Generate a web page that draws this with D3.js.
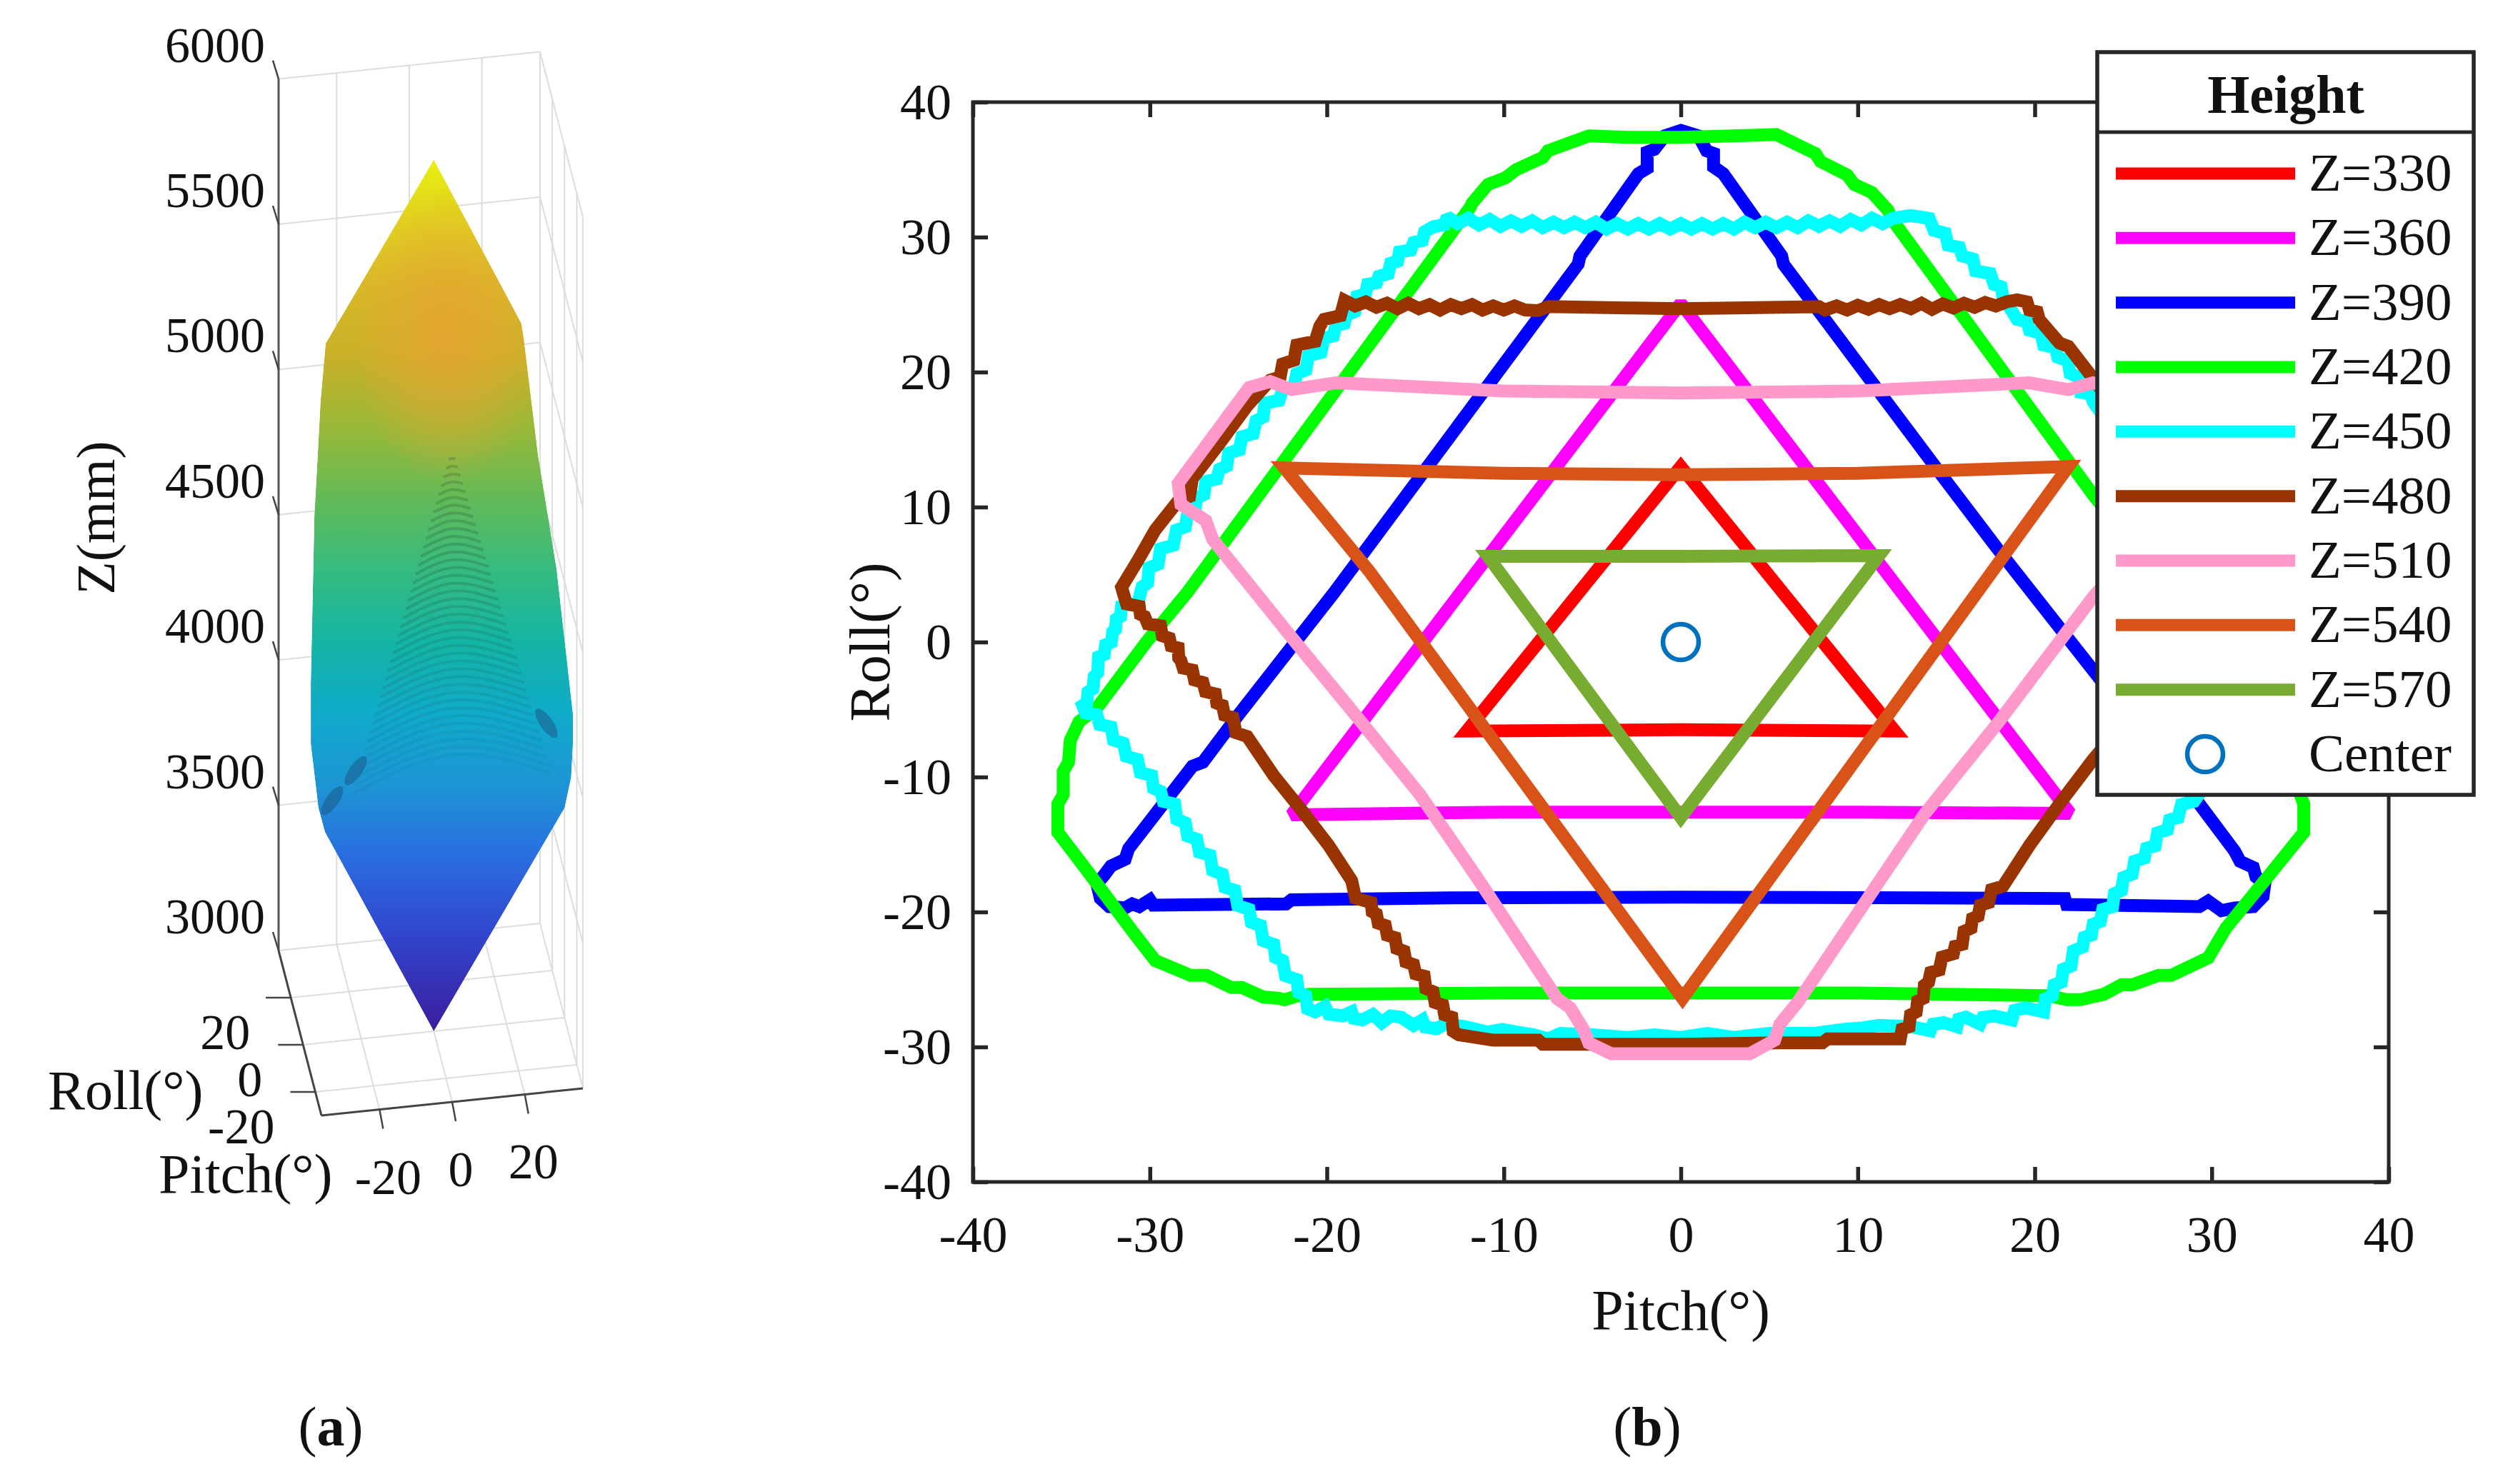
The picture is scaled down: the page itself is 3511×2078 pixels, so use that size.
<!DOCTYPE html>
<html>
<head>
<meta charset="utf-8">
<title>Height contours</title>
<script src="https://cdnjs.cloudflare.com/ajax/libs/d3/7.8.5/d3.min.js"></script>
<style>
html, body { margin: 0; padding: 0; background: #fff; }
svg { display: block; }
text { font-family: "Liberation Serif", serif; fill: #111; }
</style>
</head>
<body>
<svg id="chart" width="3511" height="2078"></svg>
<script>
// DATA, panel (b). Each contour is a list of [pitch, roll].
var z330 = [[0,13],[12.1,-6.6],[0,-6.5],[-12.1,-6.6]];
var z360 = [[0,25.1],[22,-12.7],[10,-12.6],[0,-12.6],[-10,-12.6],[-22,-12.8]];
var z390 = [[0,37.9],[1,37.5],[1.45,36.4],[1.85,36.2],[1.85,35.2],[2.4,34.7],[5.7,28.6],[5.8,28],[14.6,12.6],[17.9,6.9],[23.6,-2.6],
    [29.3,-12],[31.3,-15.5],[31.6,-16.25],[32.35,-16.7],[32.5,-17.4],[33,-17.9],[32.9,-18.85],[32.35,-19.6],[31.3,-19.7],[30.55,-19.9],
    [29.8,-19.2],[29.3,-19.6],[21.8,-19.45],[21.7,-19],[13.3,-18.95],[0,-18.9],[-13,-18.95],[-22,-19.1],[-22.3,-19.4],[-29.8,-19.5],
    [-30,-19.1],[-30.6,-19.6],[-31,-19.4],[-31.4,-19.7],[-32.3,-19.6],[-32.8,-19],[-33,-17.9],[-32.6,-17.3],[-32.2,-16.6],[-31.4,-16.1],
    [-31.2,-15.3],[-29.1,-11.75],[-27.6,-9.2],[-27,-8.9],[-25,-5.4],[-19.6,3.65],[-5.8,28],[-5.7,28.6],[-2.4,34.7],[-1.9,35.1],[-1.9,36.3],[-1.5,36.5],[-0.9,37.5]];
var z420 = [[-5.2,37.5],[-3,37.4],[0,37.4],[3,37.5],[5.4,37.6],[7.6,36.2],[7.9,35.6],[9.4,34.6],[9.8,33.9],[10.8,33.3],[11.7,32],[12,31.2],
    [23.3,10.9],[33,-4.9],[34,-5.9],[34.5,-7.3],[34.6,-8.9],[34.9,-9.6],[35,-11.3],[35.2,-12],[35.2,-14.1],[33.6,-16.7],[30.8,-21.2],[29.8,-23.4],
    [27.7,-24.7],[27,-24.7],[25.5,-25.4],[24.9,-25.4],[23.9,-26.1],[22.6,-26.5],[21.8,-26.5],[20.8,-26.2],[10,-26],[0,-26],[-10,-26],[-21,-26.1],
    [-21.6,-26.2],[-22.4,-26.5],[-22.7,-26.4],[-23.6,-26.3],[-24.8,-25.6],[-25.4,-25.6],[-26.8,-24.7],[-27.7,-24.7],[-29.7,-23.6],[-31,-21.4],
    [-33.8,-16.5],[-35.2,-14.1],[-35.2,-12],[-34.9,-11.3],[-34.9,-9.6],[-34.6,-8.9],[-34.5,-7.3],[-34,-5.9],[-33,-4.9],[-30.2,0],[-27.9,3.65],
    [-11.9,32.2],[-11.8,32.5],[-10.9,33.9],[-9.9,34.4],[-9.3,35],[-7.8,35.9],[-7.5,36.4]];
var z450 = [[-13.2,31.5],[-12.6,31],[-12,31.4],[-11.4,30.9],[-10.8,31.3],[-10.2,30.8],[-9.6,31.2],[-9,30.8],[-8.4,31.2],[-7.8,30.7],[-7.2,31.1],
    [-6.6,30.7],[-6,31.1],[-5.4,30.7],[-4.8,31.1],[-4.2,30.6],[-3.6,31],[-3,30.6],[-2.4,31],[-1.8,30.6],[-1.2,31],[-0.6,30.6],[0,31],[0.6,30.6],
    [1.2,31],[1.8,30.6],[2.4,31],[3,30.6],[3.6,31.1],[4.2,30.7],[4.8,31.1],[5.4,30.7],[6,31.1],[6.6,30.7],[7.2,31.2],[7.8,30.8],[8.4,31.2],
    [9,30.8],[9.6,31.3],[10.2,30.9],[10.8,31.4],[11.4,31],[12,31.4],[13,31.6],[14.3,30.5],[15.1,29.4],[15.9,28.6],[16.65,27.5],[17.7,26.5],
    [18.2,25.6],[19,23.9],[19.7,23.1],[20.5,22],[21.3,21.1],[22,19.9],[22.6,18.5],[23.3,17.8],[27,11],[30,4],[32,0],[33.8,-4.7],[31,-8],[29,-11.8],
    [28.1,-13],[27.5,-13.9],[26.8,-15.1],[26.2,-16],[25.5,-17.2],[24.9,-18.4],[24.4,-19.6],[23.7,-20.7],[23.2,-21.7],[22.7,-22.6],[22.05,-24],
    [21.5,-25.2],[21,-26.2],[20.5,-27.4],[19.5,-27.1],[18.7,-28],[17.7,-27.7],[16.9,-28.3],[16.1,-27.8],[15.6,-28.5],[14.85,-28.2],[14.1,-28.8],
    [13.05,-28.5],[11.2,-28.4],[10.2,-28.6],[9.2,-28.7],[7.5,-29],[5,-29],[3,-29.3],[1.5,-29],[0,-29.3],[-1.5,-29.1],[-3,-29.3],[-5,-29.1],
    [-6.8,-29],[-7.5,-29.4],[-8.3,-29.1],[-9.3,-28.9],[-10.1,-28.7],[-10.9,-28.9],[-12.2,-28.5],[-13.3,-28.3],[-13.8,-28.65],[-14.6,-28],
    [-15.1,-28.4],[-15.8,-27.8],[-16.4,-27.7],[-16.9,-28.2],[-17.4,-27.6],[-18,-28],[-18.6,-27.4],[-19.1,-27.7],[-20.1,-27],[-20.66,-27.4],
    [-21.2,-26.2],[-21.7,-25],[-22.5,-23.6],[-23,-22.4],[-23.75,-21],[-24.4,-19.8],[-25.2,-18.4],[-25.9,-17.2],[-26.6,-15.8],[-27.35,-14.6],
    [-28,-13.4],[-28.6,-12],[-29.4,-11.06],[-29.9,-9.9],[-30.7,-8.7],[-31.5,-7.5],[-32.2,-6.3],[-33,-5.4],[-33.8,-4.7],[-33.5,-3.7],[-33.15,-2.55],
    [-32.9,-1.1],[-32.5,-0.2],[-32.1,0.75],[-31.9,1.7],[-31.6,2.64],[-30.44,4.1],[-30.05,5.5],[-29.4,6.9],[-28.5,8.3],[-27.87,9.5],[-27.35,10.7],
    [-26.84,11.9],[-26.07,12.8],[-25.55,14],[-24.8,15.2],[-24,16.4],[-23.5,17.7],[-22.5,18.7],[-21.7,19.9],[-21.05,21.2],[-20.15,22.5],[-19.5,23.45],
    [-18.9,24.2],[-18.3,25.6],[-17.7,26.5],[-17.06,27.1],[-16.4,28.05],[-15.9,28.9],[-15.1,29.6],[-14.48,30.4],[-13.97,30.77]];
var z480 = [[-19,25.3],[-18.4,24.9],[-17.8,25.2],[-17.2,24.8],[-16.6,25.1],[-16,24.7],[-15.4,25.1],[-14.8,24.7],[-14.2,25],[-13.6,24.6],[-13,25],
    [-12.4,24.7],[-11.8,25],[-11.2,24.6],[-10.6,24.9],[-10,24.6],[-9.4,24.9],[-8.8,24.6],[-8.05,24.55],[-7.5,24.85],[-3,24.75],[0,24.7],[3,24.75],
    [7.8,24.85],[8.15,24.6],[8.8,24.9],[9.4,24.6],[10,24.95],[10.6,24.65],[11.2,25],[11.8,24.7],[12.4,25],[13,24.7],[13.6,25.1],[14.2,24.65],
    [14.8,25.05],[15.4,24.75],[16,25.1],[16.6,24.8],[17.2,25.15],[17.8,24.9],[18.4,25.2],[19,25.35],[19.7,24.6],[20.25,23.9],[21.4,22.15],[21.9,21.9],
    [23.2,19.7],[26,14.7],[28.4,10.5],[30.7,6],[31.6,4.1],[30.5,2.6],[28.3,-0.4],[26.3,-3.9],[25.3,-5.6],[23.3,-8.7],[21.5,-11.8],[19.7,-15.07],
    [18.2,-18.1],[17.4,-19.3],[16.8,-20.3],[16.4,-21.2],[15.9,-22.4],[15.4,-23.1],[14.6,-24.3],[14,-25.2],[13.7,-26.4],[13.3,-27.4],[12.9,-28.5],
    [12.4,-29.4],[10.6,-29.4],[8.3,-29.4],[8,-29.7],[5.6,-29.7],[0,-29.8],[-5.27,-29.8],[-7.8,-29.8],[-8.05,-29.5],[-10.6,-29.5],[-12.55,-29.1],
    [-12.94,-27.8],[-13.45,-26.9],[-14,-25.9],[-14.5,-24.76],[-15.1,-23.9],[-15.64,-22.9],[-16.15,-21.9],[-16.7,-21],[-17.2,-20.15],[-17.5,-19.3],
    [-18.6,-17.67],[-19.9,-15.07],[-21.4,-12.5],[-23,-9.9],[-24.5,-7],[-25.3,-5.6],[-25.9,-4.7],[-26.3,-3.85],[-27,-3],[-27.6,-2.08],[-28.25,-1.37],
    [-28.4,-0.43],[-28.9,0.28],[-29.4,1.2],[-30.3,1.9],[-30.6,2.64],[-31.5,3.6],[-31.6,4.06],[-30.7,6],[-29.7,8.3],[-28.4,10.45],[-27.6,12.1],
    [-26.07,14.7],[-24.5,17.5],[-23.2,19.4],[-22.5,20.6],[-21.7,22],[-20.4,23.4],[-20.15,23.9]];
var z510 = [[-24.4,18.85],[-23.2,19.3],[-22,18.7],[-19.5,19.2],[-10,18.6],[0,18.45],[10,18.6],[19.7,19.2],[21.9,18.7],[23.3,19.2],[24.4,18.9],[28.3,11.8],
    [28.2,10.3],[23.3,3.35],[18,-5.86],[13.8,-12.7],[6.6,-26.7],[5.6,-28.3],[5.3,-29.5],[3.9,-30.5],[0,-30.5],[-3.93,-30.5],[-5.2,-29.7],[-5.47,-28.77],
    [-6.25,-27.1],[-7,-26.4],[-11.4,-17.67],[-14.74,-11.3],[-18.1,-5.86],[-21.95,0.28],[-25,5.24],[-26.45,7.6],[-26.84,9],[-28.25,10.2],[-28.4,11.75]];
var z540 = [[-22.4,12.9],[-10,12.5],[0,12.4],[10,12.5],[21.9,13],[0.1,-26.4],[-17.6,5.24]];
var z570 = [[-10.9,6.35],[0,6.35],[11.2,6.4],[0,-13]];

var contour_names = ['Z=330', 'Z=360', 'Z=390', 'Z=420', 'Z=450', 'Z=480', 'Z=510', 'Z=540', 'Z=570'];
var contour_lists = [z330, z360, z390, z420, z450, z480, z510, z540, z570];
var contour_colors = ['#ff0000', '#ff00ff', '#0000ff', '#00ff00', '#00ffff', '#993300', '#ff99cc', '#d95319', '#77ac30'];
var center_point = [0, 0];
var axis_ticks_b = [-40, -30, -20, -10, 0, 10, 20, 30, 40];

// DATA, panel (a). The outline of the surface as [pitch, roll, z].
var surface_outline = [[0,0,6000],[22.1,-12,5505],[22.7,-12,5457],[26.7,-12,5044],[31.8,-12,4646],[36.3,-12,4142],[36.3,-12,4041],[35.8,-12,3924],[34,-12,3822],
    [0,0,3000],[-32,-12,3825],[-33.8,-12,3910],[-35.9,-12,4134],[-35.9,-12,4341],[-34.9,-12,4920],[-34,-12,5123],[-33.2,-12,5311],[-31.8,-12,5506]];
var surface_stop_z = [3000, 3354, 3600, 3845, 4090, 4337, 4583, 4830, 5075, 5320, 5566, 5800, 6000];
var surface_stop_color = ['#3b1d9e', '#3048d0', '#2a6de0', '#1d95d4', '#10aacb', '#14b5a5', '#35bb80', '#62ba58', '#98b838', '#c8b028', '#d8b828', '#e0d81c', '#e8ee10'];
var z_ticks = [3000, 3500, 4000, 4500, 5000, 5500, 6000];
var pitch_ticks = [-20, 0, 20];
var roll_ticks = [-20, 0, 20];
var pitch_range = [-36, 36];
var roll_range = [-30, 40];

var svg = d3.select('#chart');
var defs = svg.append('defs');

// PANEL B
var x = d3.scaleLinear().domain([-40, 40]).range([1362, 3344]);
var y = d3.scaleLinear().domain([-40, 40]).range([1655, 143]);
var tick_font = 72;

var panel_b = svg.append('g');
panel_b.append('rect')
    .attr('x', x(-40)).attr('y', y(40))
    .attr('width', x(40) - x(-40)).attr('height', y(-40) - y(40))
    .attr('fill', '#fff');

var plain = function(d) { return String(d); };

function style_axis(g) {
    g.select('.domain').remove();
    g.selectAll('.tick line').attr('stroke', '#262626').attr('stroke-width', 5.5);
    g.selectAll('.tick text').attr('fill', '#111').style('font-size', tick_font + 'px').style('font-family', '"Liberation Serif", serif');
}

// Add the X Axis
panel_b.append('g')
    .attr('transform', 'translate(0,' + y(-40) + ')')
    .call(d3.axisBottom(x).tickValues(axis_ticks_b).tickFormat(plain).tickSizeInner(-21).tickSizeOuter(0).tickPadding(47))
    .call(style_axis);
panel_b.append('g')
    .attr('transform', 'translate(0,' + y(40) + ')')
    .call(d3.axisTop(x).tickValues(axis_ticks_b).tickFormat('').tickSizeInner(-21).tickSizeOuter(0))
    .call(style_axis);

// Add the Y Axis
panel_b.append('g')
    .attr('transform', 'translate(' + x(-40) + ',0)')
    .call(d3.axisLeft(y).tickValues(axis_ticks_b).tickFormat(plain).tickSizeInner(-21).tickSizeOuter(0).tickPadding(30))
    .call(style_axis);
panel_b.append('g')
    .attr('transform', 'translate(' + x(40) + ',0)')
    .call(d3.axisRight(y).tickValues(axis_ticks_b).tickFormat('').tickSizeInner(-21).tickSizeOuter(0))
    .call(style_axis);

var contour_line = d3.line()
    .x(function(d) { return x(d[0]); })
    .y(function(d) { return y(d[1]); })
    .curve(d3.curveLinearClosed);

// The plotted contours were gridded, so the short slanted runs come out with small nicks.
function stair_steps(points) {
    var out = [];
    points.forEach(function(d, i) {
        var next = points[(i + 1) % points.length];
        var dp = next[0] - d[0];
        var dr = next[1] - d[1];
        out.push(d);
        if ( Math.abs(dr) > 0.6 && Math.abs(dr) < 1.7 ) out.push([d[0] + dp * 0.8, d[1] + dr * 0.2]);
    });
    return out;
}
var stepped = { 'Z=450': 1, 'Z=480': 1 };

// The small triangles keep their sharp tips, the others get cut corners.
var sharp_tips = { 'Z=330': 1, 'Z=540': 1, 'Z=570': 1 };
panel_b.selectAll('path.contour')
    .data(contour_lists)
    .enter().append('path')
    .attr('class', 'contour')
    .attr('d', function(d, i) { return contour_line(stepped[contour_names[i]] ? stair_steps(d) : d); })
    .attr('fill', 'none')
    .attr('stroke', function(d, i) { return contour_colors[i]; })
    .attr('stroke-width', 18)
    .attr('stroke-linejoin', 'miter')
    .attr('stroke-miterlimit', function(d, i) { return sharp_tips[contour_names[i]] ? 10 : 1.6; });

panel_b.append('circle')
    .attr('cx', x(center_point[0])).attr('cy', y(center_point[1]))
    .attr('r', 25).attr('fill', 'none')
    .attr('stroke', '#0072bd').attr('stroke-width', 6.5);

panel_b.append('rect')
    .attr('x', x(-40)).attr('y', y(40))
    .attr('width', x(40) - x(-40)).attr('height', y(-40) - y(40))
    .attr('fill', 'none').attr('stroke', '#262626').attr('stroke-width', 5);

panel_b.append('text')
    .attr('x', x(0)).attr('y', 1862)
    .attr('text-anchor', 'middle').style('font-size', '80px')
    .text('Pitch(°)');
panel_b.append('text')
    .attr('transform', 'translate(1245,' + y(0) + ') rotate(-90)')
    .attr('text-anchor', 'middle').style('font-size', '80px')
    .text('Roll(°)');

// LEGEND
var legend_names = contour_names.concat(['Center']);
var legend_y = d3.scaleLinear().domain([0, 9]).range([243, 1056]);
var legend = svg.append('g');
legend.append('rect')
    .attr('x', 2936).attr('y', 73).attr('width', 527).attr('height', 1040)
    .attr('fill', '#fff').attr('stroke', '#262626').attr('stroke-width', 5.5);
legend.append('line')
    .attr('x1', 2936).attr('x2', 3463).attr('y1', 185).attr('y2', 185)
    .attr('stroke', '#262626').attr('stroke-width', 5);
legend.append('text')
    .attr('x', 3200).attr('y', 158)
    .attr('text-anchor', 'middle')
    .style('font-size', '76px').style('font-weight', 'bold')
    .text('Height');
legend.selectAll('line.sample')
    .data(contour_names)
    .enter().append('line')
    .attr('class', 'sample')
    .attr('x1', 2962).attr('x2', 3213)
    .attr('y1', function(d, i) { return legend_y(i); })
    .attr('y2', function(d, i) { return legend_y(i); })
    .attr('stroke', function(d, i) { return contour_colors[i]; })
    .attr('stroke-width', 17);
legend.append('circle')
    .attr('cx', 3087).attr('cy', legend_y(9)).attr('r', 25)
    .attr('fill', 'none').attr('stroke', '#0072bd').attr('stroke-width', 6.5);
legend.selectAll('text.name')
    .data(legend_names)
    .enter().append('text')
    .attr('class', 'name')
    .attr('x', 3232)
    .attr('y', function(d, i) { return legend_y(i) + 24; })
    .style('font-size', '75px')
    .text(function(d) { return d; });

// PANEL A
// Oblique projection of the 3D box onto the page.
var pitch_x = d3.scaleLinear().domain(pitch_range).range([0, 366]);
var pitch_y = d3.scaleLinear().domain(pitch_range).range([0, -38]);
var roll_x = d3.scaleLinear().domain(roll_range).range([0, -60]);
var roll_y = d3.scaleLinear().domain(roll_range).range([0, -231]);
var z_y = d3.scaleLinear().domain([3000, 6000]).range([0, -1220.4]);
function project(p, r, z) {
    return [450 + pitch_x(p) + roll_x(r), 1562 + pitch_y(p) + roll_y(r) + z_y(z)];
}

var panel_a = svg.append('g');
var p_lo = pitch_range[0], p_hi = pitch_range[1], r_lo = roll_range[0], r_hi = roll_range[1];

function seg(g, a, b, color, width) {
    g.append('line')
        .attr('x1', a[0]).attr('y1', a[1]).attr('x2', b[0]).attr('y2', b[1])
        .attr('stroke', color).attr('stroke-width', width);
}

// Grid on the floor and the two back walls
var grid = panel_a.append('g');
var grid_color = '#dcdcdc';
pitch_ticks.forEach(function(p) {
    seg(grid, project(p, r_lo, 3000), project(p, r_hi, 3000), grid_color, 2);
    seg(grid, project(p, r_hi, 3000), project(p, r_hi, 6000), grid_color, 2);
});
roll_ticks.forEach(function(r) {
    seg(grid, project(p_lo, r, 3000), project(p_hi, r, 3000), grid_color, 2);
    seg(grid, project(p_hi, r, 3000), project(p_hi, r, 6000), grid_color, 2);
});
z_ticks.forEach(function(z) {
    seg(grid, project(p_lo, r_hi, z), project(p_hi, r_hi, z), grid_color, 2);
    seg(grid, project(p_hi, r_hi, z), project(p_hi, r_lo, z), grid_color, 2);
});
seg(grid, project(p_hi, r_hi, 3000), project(p_hi, r_hi, 6000), grid_color, 2);
seg(grid, project(p_hi, r_lo, 3000), project(p_hi, r_lo, 6000), grid_color, 2);

// The surface: an outline filled with the height colours
var surface_gradient = defs.append('linearGradient')
    .attr('id', 'surface_colors')
    .attr('gradientUnits', 'userSpaceOnUse')
    .attr('x1', 0).attr('x2', 0)
    .attr('y1', project(0, 0, 3000)[1]).attr('y2', project(0, 0, 6000)[1]);
var z_offset = d3.scaleLinear().domain([3000, 6000]).range([0, 1]);
surface_gradient.selectAll('stop')
    .data(surface_stop_z)
    .enter().append('stop')
    .attr('offset', function(d) { return z_offset(d); })
    .attr('stop-color', function(d, i) { return surface_stop_color[i]; });

var glow = defs.append('radialGradient').attr('id', 'surface_glow');
glow.append('stop').attr('offset', 0).attr('stop-color', '#eaa030').attr('stop-opacity', 0.8);
glow.append('stop').attr('offset', 0.55).attr('stop-color', '#e6a632').attr('stop-opacity', 0.45);
glow.append('stop').attr('offset', 1).attr('stop-color', '#e6a632').attr('stop-opacity', 0);

var surface_points = surface_outline.map(function(d) { return project(d[0], d[1], d[2]); });
var outline_path = d3.line().curve(d3.curveLinearClosed)(surface_points);
defs.append('clipPath').attr('id', 'surface_clip').append('path').attr('d', outline_path);

var surface = panel_a.append('g').attr('clip-path', 'url(#surface_clip)');
surface.append('path').attr('d', outline_path).attr('fill', 'url(#surface_colors)');
var glow_at = project(4, 0, 5400);
surface.append('ellipse')
    .attr('cx', glow_at[0]).attr('cy', glow_at[1]).attr('rx', 135).attr('ry', 215)
    .attr('fill', 'url(#surface_glow)');

// Ripples of the inner cone, fading towards its foot
var ripple_z = d3.range(3900, 4990, 28);
var ripple_fade = d3.scaleLinear().domain([3900, 4600]).range([0.05, 0.2]).clamp(true);
var ripple_line = d3.line()
    .x(function(d) { return d[0]; })
    .y(function(d) { return d[1]; })
    .curve(d3.curveNatural);
surface.selectAll('path.ripple')
    .data(ripple_z)
    .enter().append('path')
    .attr('class', 'ripple')
    .attr('d', function(z) {
        var half = (5000 - z) * 0.025;
        return ripple_line([project(5 - half, 0, z - half * 2), project(5, 0, z + half * 1.6), project(5 + half, 0, z - half * 2)]);
    })
    .attr('fill', 'none')
    .attr('stroke', '#1a3a30')
    .attr('stroke-opacity', ripple_fade)
    .attr('stroke-width', 4);

// Dark spots where the cone meets the side lobes
var spot_at = [project(-21.5, 0, 3925), project(-28, 0, 3830), project(31, 0, 4020)];
surface.selectAll('ellipse.spot')
    .data(spot_at)
    .enter().append('ellipse')
    .attr('class', 'spot')
    .attr('cx', function(d) { return d[0]; }).attr('cy', function(d) { return d[1]; })
    .attr('rx', 9).attr('ry', 24)
    .attr('transform', function(d, i) { return 'rotate(' + (i == 2 ? -35 : 35) + ' ' + d[0] + ' ' + d[1] + ')'; })
    .attr('fill', '#1c5a86').attr('fill-opacity', 0.55);

// Dark axis lines and ticks
var axis_color = '#444';
seg(panel_a, project(p_lo, r_hi, 3000), project(p_lo, r_hi, 6000), '#555', 3);
seg(panel_a, project(p_lo, r_hi, 3000), project(p_lo, r_lo, 3000), axis_color, 3);
seg(panel_a, project(p_lo, r_lo, 3000), project(p_hi, r_lo, 3000), axis_color, 3);

z_ticks.forEach(function(z) {
    var at = project(p_lo, r_hi, z);
    seg(panel_a, at, [at[0] - 8, at[1] - 26], axis_color, 2.5);
    panel_a.append('text')
        .attr('x', 371).attr('y', at[1] - 24)
        .attr('text-anchor', 'end').style('font-size', '70px')
        .text(z);
});
pitch_ticks.forEach(function(p) {
    var at = project(p, r_lo, 3000);
    seg(panel_a, at, [at[0] + 5, at[1] + 27], axis_color, 2.5);
    panel_a.append('text')
        .attr('x', at[0] + 12).attr('y', at[1] + 118)
        .attr('text-anchor', 'middle').style('font-size', '70px')
        .text(p);
});
roll_ticks.forEach(function(r) {
    var at = project(p_lo, r, 3000);
    seg(panel_a, at, [at[0] - 35, at[1]], axis_color, 2.5);
    panel_a.append('text')
        .attr('x', at[0] - 57).attr('y', at[1] + 72)
        .attr('text-anchor', 'end').style('font-size', '70px')
        .text(r);
});

panel_a.append('text')
    .attr('transform', 'translate(160,725) rotate(-90)')
    .attr('text-anchor', 'middle').style('font-size', '76px')
    .text('Z(mm)');
panel_a.append('text').attr('x', 67).attr('y', 1553).style('font-size', '78px').text('Roll(°)');
panel_a.append('text').attr('x', 222).attr('y', 1670).style('font-size', '78px').text('Pitch(°)');

// Panel captions
var caption_a = svg.append('text').attr('x', 463).attr('y', 2024).attr('text-anchor', 'middle').style('font-size', '78px');
caption_a.append('tspan').text('(');
caption_a.append('tspan').style('font-weight', 'bold').text('a');
caption_a.append('tspan').text(')');
var caption_b = svg.append('text').attr('x', 2306).attr('y', 2024).attr('text-anchor', 'middle').style('font-size', '78px');
caption_b.append('tspan').text('(');
caption_b.append('tspan').style('font-weight', 'bold').text('b');
caption_b.append('tspan').text(')');
</script>
</body>
</html>
